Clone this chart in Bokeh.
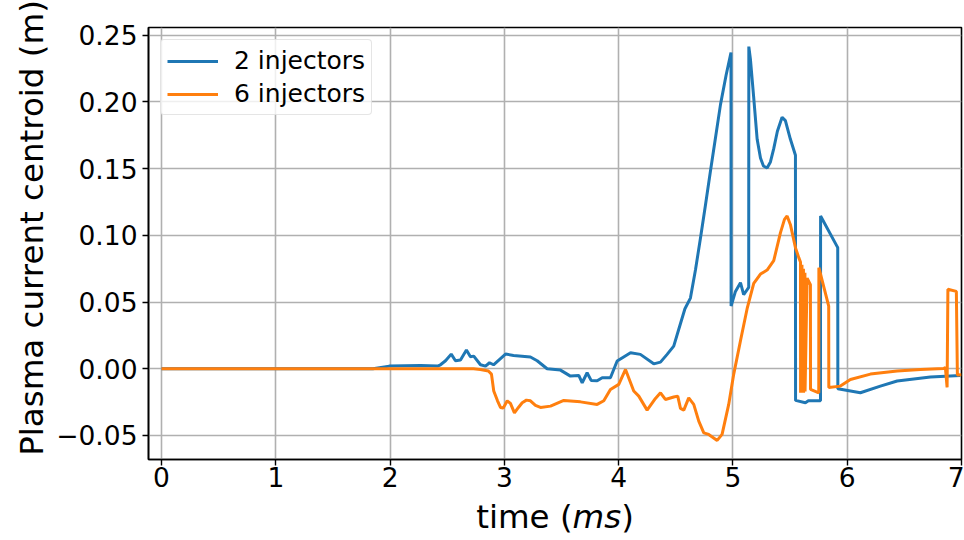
import math
from bokeh.plotting import figure
from bokeh.layouts import column
from bokeh.models import (Range1d, FixedTicker, CustomJSTickFormatter, Label,
                          Legend, LegendItem)
from bokeh.embed import file_html
from bokeh.resources import INLINE

# ---- data ----
x_ticks = [0, 1, 2, 3, 4, 5, 6, 7]
y_ticks = [-0.05, 0.0, 0.05, 0.10, 0.15, 0.20, 0.25]
series_names = ["2 injectors", "6 injectors"]

t_2inj = [0.0, 1.85, 1.992, 2.266, 2.415, 2.441, 2.485, 2.535, 2.572, 2.616,
          2.668, 2.703, 2.732, 2.791, 2.835, 2.870, 2.905, 3.010, 3.080, 3.228,
          3.287, 3.374, 3.491, 3.578, 3.651, 3.681, 3.724, 3.759, 3.812, 3.856,
          3.928, 3.987, 4.104, 4.190, 4.307, 4.366, 4.424, 4.482, 4.526, 4.580,
          4.628, 4.672, 4.716, 4.760, 4.803, 4.847, 4.891, 4.940, 4.983, 4.984,
          5.022, 5.066, 5.094, 5.138, 5.139, 5.153, 5.182, 5.212, 5.241, 5.267,
          5.299, 5.328, 5.357, 5.389, 5.430, 5.459, 5.503, 5.547, 5.548, 5.634,
          5.660, 5.766, 5.767, 5.917, 5.918, 6.115, 6.290, 6.437, 6.728, 6.990]
r_2inj = [0.0, 0.0, 0.002, 0.0025, 0.002, 0.003, 0.006, 0.011, 0.006, 0.0065,
          0.014, 0.009, 0.0095, 0.003, 0.002, 0.0045, 0.003, 0.011, 0.010, 0.0088,
          0.006, 0.0, -0.001, -0.0055, -0.005, -0.0105, -0.003, -0.0087, -0.009, -0.0067,
          -0.0067, 0.0058, 0.012, 0.0108, 0.0037, 0.005, 0.0108, 0.0170, 0.0296, 0.045,
          0.053, 0.074, 0.098, 0.123, 0.148, 0.173, 0.198, 0.220, 0.237, 0.047,
          0.058, 0.0645, 0.0555, 0.061, 0.2415, 0.232, 0.203, 0.172, 0.158, 0.152,
          0.1505, 0.155, 0.165, 0.178, 0.1885, 0.186, 0.172, 0.160, -0.0237, -0.0255,
          -0.024, -0.024, 0.1145, 0.0908, -0.015, -0.018, -0.013, -0.0092, -0.0062, -0.005]

t_6inj = [0.0, 2.73, 2.79, 2.86, 2.887, 2.907, 2.94, 2.966, 2.99, 3.025,
          3.053, 3.088, 3.123, 3.156, 3.193, 3.228, 3.272, 3.316, 3.404, 3.52,
          3.666, 3.812, 3.87, 3.928, 4.001, 4.06, 4.132, 4.176, 4.249, 4.322,
          4.366, 4.409, 4.482, 4.517, 4.541, 4.57, 4.613, 4.657, 4.701, 4.745,
          4.788, 4.862, 4.905, 4.963, 5.007, 5.066, 5.124, 5.182, 5.241, 5.299,
          5.357, 5.416, 5.451, 5.474, 5.503, 5.547, 5.576, 5.591, 5.592, 5.604,
          5.605, 5.617, 5.618, 5.630, 5.631, 5.649, 5.678, 5.679, 5.751, 5.752,
          5.838, 5.839, 5.94, 6.028, 6.203, 6.437, 6.64, 6.844, 6.859, 6.874,
          6.881, 6.955, 6.964, 7.0]
r_6inj = [0.0, 0.0, -0.0005, -0.0017, -0.004, -0.0167, -0.024, -0.029, -0.0295, -0.024,
          -0.026, -0.033, -0.029, -0.0255, -0.0235, -0.024, -0.0275, -0.029, -0.028, -0.0237,
          -0.0248, -0.0267, -0.024, -0.0155, -0.0117, -0.0005, -0.0167, -0.0205, -0.031, -0.0222,
          -0.018, -0.023, -0.0212, -0.0205, -0.0297, -0.031, -0.0218, -0.0267, -0.0392, -0.048,
          -0.0492, -0.0537, -0.0492, -0.0267, -0.004, 0.021, 0.045, 0.064, 0.071, 0.074,
          0.081, 0.102, 0.112, 0.1145, 0.108, 0.0908, 0.0833, 0.080, -0.018, 0.078,
          -0.018, 0.075, -0.018, 0.072, -0.017, 0.068, 0.063, -0.0155, -0.018, 0.0758,
          0.047, -0.014, -0.013, -0.008, -0.004, -0.0017, -0.0005, 0.0003, 0.0008, -0.014,
          0.0596, 0.058, -0.0047, -0.0045]

x_title_parts = ["time (", "ms", ")"]
y_title = "Plasma current centroid (m)"

colors = ["#1f77b4", "#ff7f0e"]
FONT = "DejaVu Sans"
X_RANGE = (-0.114, 7.0)

p = figure(width=964, height=498, output_backend="svg", toolbar_location=None,
           x_range=Range1d(*X_RANGE), y_range=Range1d(-0.068, 0.2558),
           min_border_left=148, min_border_right=3, min_border_top=27,
           min_border_bottom=39)
p.background_fill_color = "white"
p.border_fill_color = "white"
p.outline_line_color = "black"
p.outline_line_width = 1.6
p.outline_line_alpha = 1.0

# grid
for g in (p.xgrid, p.ygrid):
    g.grid_line_color = "#b0b0b0"
    g.grid_line_width = 1.6
p.xgrid.ticker = FixedTicker(ticks=x_ticks)
p.ygrid.ticker = FixedTicker(ticks=y_ticks)

# axes
p.xaxis.ticker = FixedTicker(ticks=x_ticks)
p.yaxis.ticker = FixedTicker(ticks=y_ticks)
p.xaxis.formatter = CustomJSTickFormatter(code="return tick.toFixed(0);")
p.yaxis.formatter = CustomJSTickFormatter(
    code="return (tick < -1e-9 ? '\\u2212' : '') + Math.abs(tick).toFixed(2);")
for ax in (p.xaxis[0], p.yaxis[0]):
    ax.axis_line_color = "black"
    ax.axis_line_width = 1.6
    ax.major_tick_line_color = "black"
    ax.major_tick_line_width = 1.4
    ax.major_tick_out = 6
    ax.major_tick_in = 0
    ax.minor_tick_line_color = None
    ax.major_label_text_font = FONT
    ax.major_label_text_font_size = "26.5px"
    ax.major_label_text_color = "black"
p.xaxis.major_label_standoff = 1
p.yaxis.major_label_standoff = 5

# leading no-break spaces nudge the centred title up to match the reference
p.yaxis.axis_label = "\u00a0\u00a0\u00a0" + y_title
p.yaxis.axis_label_text_font = FONT
p.yaxis.axis_label_text_font_size = "32.5px"
p.yaxis.axis_label_text_font_style = "normal"
p.yaxis.axis_label_text_color = "black"
p.yaxis.axis_label_standoff = 2

# lines
r1 = p.line(t_2inj, r_2inj, line_color=colors[0], line_width=3.0)
r2 = p.line(t_6inj, r_6inj, line_color=colors[1], line_width=3.0)

legend = Legend(items=[LegendItem(label=series_names[0], renderers=[r1]),
                       LegendItem(label=series_names[1], renderers=[r2])],
                location="top_left", margin=12, padding=6, spacing=4,
                glyph_width=51, glyph_height=26, label_height=26,
                label_standoff=16,
                label_text_font=FONT, label_text_font_size="25px",
                label_text_color="black",
                border_line_color="#cccccc", border_line_width=1.2,
                background_fill_color="white", background_fill_alpha=0.8)
try:
    legend.border_radius = 4
except Exception:
    pass
p.add_layout(legend, "center")

# strip below the plot holding the x-axis title (with italic "ms")
P2_H = 42
p2 = figure(width=964, height=P2_H, output_backend="svg", toolbar_location=None,
            x_range=Range1d(*X_RANGE), y_range=Range1d(0, P2_H),
            x_axis_type=None, y_axis_type=None, min_border=0)
p2.outline_line_color = None
p2.grid.visible = False
p2.background_fill_color = "white"
p2.border_fill_color = "white"
ybase = 24
p2.add_layout(Label(x=2.753, y=ybase, text=x_title_parts[0], text_font=FONT,
                    text_font_size="32.5px", text_align="left",
                    text_baseline="alphabetic", text_color="black"))
p2.add_layout(Label(x=3.597, y=ybase, text=x_title_parts[1], text_font=FONT,
                    text_font_size="32.5px", text_font_style="italic",
                    text_align="left", text_baseline="alphabetic",
                    text_color="black"))
p2.add_layout(Label(x=4.022, y=ybase, text=x_title_parts[2], text_font=FONT,
                    text_font_size="32.5px", text_align="left",
                    text_baseline="alphabetic", text_color="black"))

layout = column(p, p2, spacing=0)
open("out.html", "w").write(file_html(layout, INLINE))
